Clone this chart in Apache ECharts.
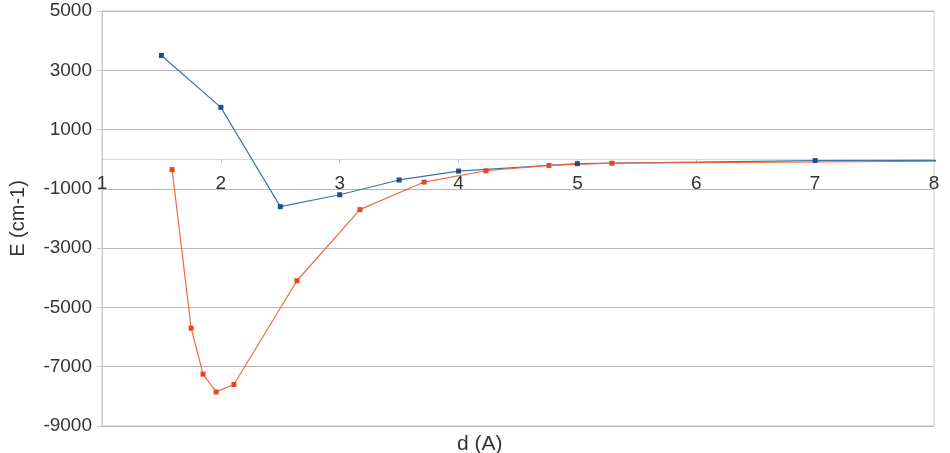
<!DOCTYPE html>
<html style="height: 100%">
<head>
    <meta charset="utf-8">
</head>
<body style="height: 100%; margin: 0; background: #fff">
    <div id="container" style="width: 950px; height: 453px"></div>
    <script type="text/javascript" src="https://cdn.jsdelivr.net/npm/echarts@6/dist/echarts.min.js"></script>
    <script type="text/javascript">
        // distance (A) and energy (cm-1)
        var blueD = [1.5, 2, 2.5, 3, 3.5, 4, 5, 7, 10];
        var blueE = [3500, 1750, -1600, -1200, -700, -400, -150, -45, -20];
        var redD = [1.59, 1.75, 1.85, 1.96, 2.11, 2.64, 3.17, 3.71, 4.23, 4.76, 5.29, 10];
        var redE = [-350, -5700, -7250, -7850, -7600, -4100, -1700, -770, -390, -210, -135, -20];
        var yTicks = { min: -9000, max: 5000, step: 2000 };
        var xTicks = { min: 1, max: 8, step: 1 };

        function pairs(xs, ys) {
            return xs.map(function (x, i) { return [x, ys[i]]; });
        }
        // the last point of each series only carries the line off the right edge
        function withMarkers(xs, ys) {
            return pairs(xs, ys).map(function (p) {
                return p[0] > xTicks.max ? { value: p, symbolSize: 0 } : p;
            });
        }

        var dom = document.getElementById("container");
        var myChart = echarts.init(dom);
        var font = 'Liberation Sans';
        var gridTop = 11, gridBottom = 27;
        var plotH = 453 - gridTop - gridBottom;
        // move the x axis (line, ticks and labels) up to E = 0
        var zeroOffset = -plotH * (0 - yTicks.min) / (yTicks.max - yTicks.min);

        var option = {
            backgroundColor: '#ffffff',
            animation: false,
            grid: {
                left: 100,
                right: 16,
                top: gridTop,
                bottom: gridBottom,
                show: true,
                borderColor: '#c8c8c8',
                borderWidth: 1
            },
            xAxis: {
                type: 'value',
                position: 'bottom',
                offset: zeroOffset,
                min: xTicks.min,
                max: xTicks.max,
                interval: xTicks.step,
                axisLine: { onZero: false, lineStyle: { color: '#d6d6d6', width: 1 } },
                axisTick: { show: true, length: 4, lineStyle: { color: '#c8c8c8' } },
                axisLabel: { color: '#333', fontFamily: font, fontSize: 19, margin: 15 },
                splitLine: { show: false }
            },
            yAxis: {
                type: 'value',
                min: yTicks.min,
                max: yTicks.max,
                interval: yTicks.step,
                name: 'E (cm-1)',
                nameLocation: 'middle',
                nameGap: 74,
                nameTextStyle: { color: '#333', fontFamily: font, fontSize: 20 },
                axisLine: { show: true, lineStyle: { color: '#c8c8c8' } },
                axisTick: { show: true, length: 5, lineStyle: { color: '#c8c8c8' } },
                axisLabel: {
                    color: '#333', fontFamily: font, fontSize: 19, margin: 10,
                    formatter: function (v) { return String(v); }
                },
                splitLine: { show: true, lineStyle: { color: '#b8b8b8', width: 1 } }
            },
            graphic: [{
                type: 'text',
                left: 457,
                top: 434,
                style: { text: 'd (A)', fill: '#333', font: '21px "Liberation Sans"' }
            }],
            series: [{
                type: 'line',
                data: withMarkers(blueD, blueE),
                symbol: 'rect',
                symbolSize: 5,
                clip: true,
                lineStyle: { color: '#3d75a8', width: 1.2 },
                itemStyle: { color: '#1c4f88' }
            }, {
                type: 'line',
                data: withMarkers(redD, redE),
                symbol: 'rect',
                symbolSize: 5,
                clip: true,
                lineStyle: { color: '#f26a40', width: 1.2 },
                itemStyle: { color: '#e8461c' }
            }]
        };

        if (option && typeof option === "object") {
            myChart.setOption(option, true);
        }
    </script>
</body>
</html>
